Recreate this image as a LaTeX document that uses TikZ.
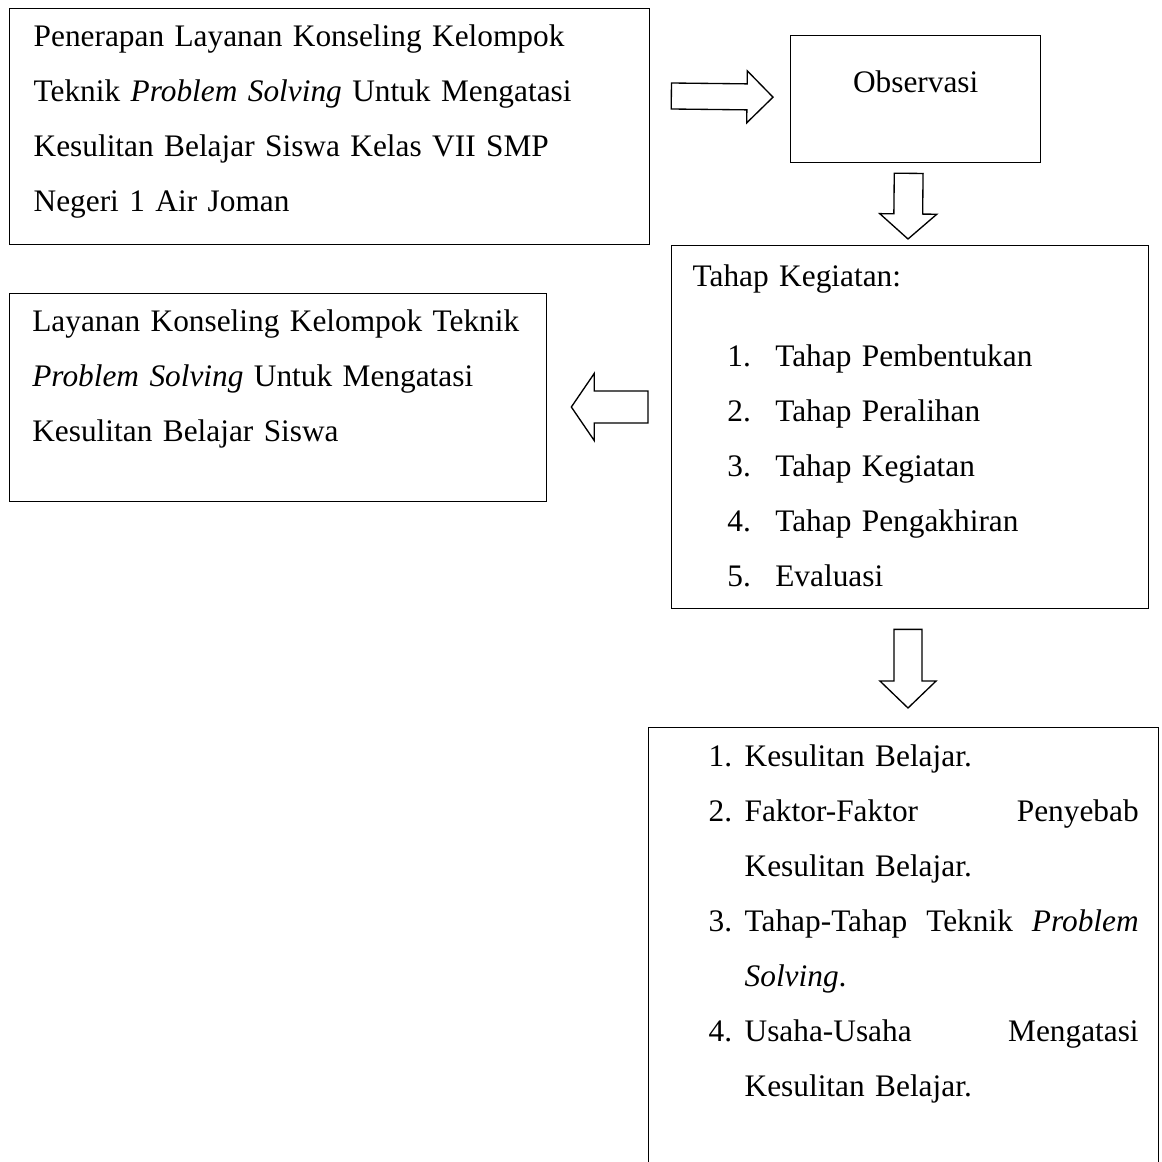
\documentclass[tikz,border=0pt]{standalone}
\usepackage{fontspec}
\setmainfont{Liberation Serif}
\usetikzlibrary{calc}
\tikzset{
	box/.style        = {draw, line width=0.5pt, anchor=north west,
		align=left, inner ysep=0pt},
	blockarrow/.style n args = {3}{draw, line width=0.5pt, line join=miter,
		to path={
			($(\tikztostart)!#1!90:(\tikztotarget)$)
			-- ($($(\tikztotarget)!#3!(\tikztostart)$)!#1!90:(\tikztotarget)$)
			-- ($($(\tikztotarget)!#3!(\tikztostart)$)!#2!90:(\tikztotarget)$)
			-- (\tikztotarget)
			-- ($($(\tikztotarget)!#3!(\tikztostart)$)!#2!-90:(\tikztotarget)$)
			-- ($($(\tikztotarget)!#3!(\tikztostart)$)!#1!-90:(\tikztotarget)$)
			-- ($(\tikztostart)!#1!-90:(\tikztotarget)$)
			-- cycle}}
}
\newcommand{\itemno}[1]{\makebox[18pt][l]{#1}}
\newcommand{\itemnr}[1]{\makebox[13.5pt][l]{#1}}

\begin{document}
\begin{tikzpicture}
[
x                 = 0.375pt,
y                 = -0.375pt,
every node/.style = {font=\fontsize{11.75}{20.625}\selectfont}
]
\useasboundingbox (0,0) rectangle (1161,1162);
\clip (0,0) rectangle (1161,1162);

% boxes
\node [box, inner xsep=9pt, text width=222pt,
	text height=14.25pt, text depth=74.25pt] (judul) at (9,8)
	{Penerapan Layanan Konseling Kelompok\\
	Teknik \textit{Problem Solving} Untuk Mengatasi\\
	Kesulitan Belajar Siswa Kelas VII SMP\\
	Negeri 1 Air Joman};
\node [box, align=center, inner xsep=0pt, text width=93.75pt,
	text height=21.375pt, text depth=26.25pt] (observasi) at (790,35)
	{Observasi};
\node [box, inner xsep=7.875pt, text width=163.125pt,
	text height=15.375pt, text depth=120.75pt] (tahap) at (671,245)
	{Tahap Kegiatan:\\[9.375pt]
	\hspace*{13pt}\itemno{1.}Tahap Pembentukan\\
	\hspace*{13pt}\itemno{2.}Tahap Peralihan\\
	\hspace*{13pt}\itemno{3.}Tahap Kegiatan\\
	\hspace*{13pt}\itemno{4.}Tahap Pengakhiran\\
	\hspace*{13pt}\itemno{5.}Evaluasi};
\node [box, inner xsep=8.5pt, text width=184.375pt,
	text height=14.25pt, text depth=63.75pt] (layanan) at (9,293)
	{\mbox{Layanan Konseling Kelompok Teknik}\\
	\textit{Problem Solving} Untuk Mengatasi\\
	Kesulitan Belajar Siswa};
\node [box, inner xsep=7.5pt, text width=176.25pt,
	text height=14.625pt, text depth=160pt] (kajian) at (648,727)
	{\hspace*{15pt}\itemnr{1.}Kesulitan Belajar.\\
	\hspace*{15pt}\itemnr{2.}Faktor-Faktor\hfill Penyebab\\
	\hspace*{28.5pt}Kesulitan Belajar.\\
	\hspace*{15pt}\itemnr{3.}Tahap-Tahap\hfill Teknik\hfill \textit{Problem}\\
	\hspace*{28.5pt}\textit{Solving}.\\
	\hspace*{15pt}\itemnr{4.}Usaha-Usaha\hfill Mengatasi\\
	\hspace*{28.5pt}Kesulitan Belajar.};

% block arrows
\coordinate (a1) at ($(judul.north east)+(21,88)$);
\coordinate (a2) at ($(observasi.west)+(-17,-2)$);
\coordinate (a3) at ($(observasi.south)+(-7,10)$);
\coordinate (a4) at ($(tahap.north west)+(237,-6)$);
\coordinate (a5) at ($(tahap.north west)+(-23,162)$);
\coordinate (a6) at ($(layanan.north east)+(24,114)$);
\coordinate (a7) at ($(tahap.south west)+(237,20)$);
\coordinate (a8) at ($(kajian.north west)+(260,-19)$);

\draw [blockarrow={4.875pt}{9.75pt}{9.75pt}] (a1) to (a2);
\draw [blockarrow={5.4pt}{10.7pt}{9.4pt}] (a3) to (a4);
\draw [blockarrow={6pt}{12.6pt}{8.6pt}] (a5) to (a6);
\draw [blockarrow={5.25pt}{10.5pt}{10.1pt}] (a7) to (a8);
\end{tikzpicture}
\end{document}
